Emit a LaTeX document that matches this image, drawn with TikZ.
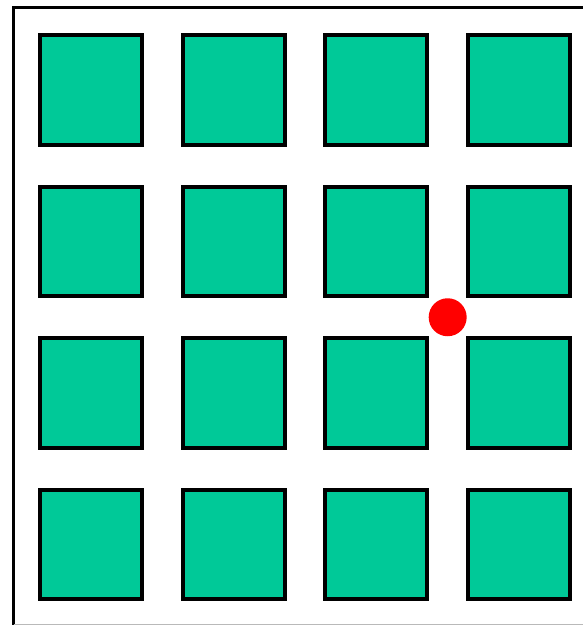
\documentclass[tikz,border=0pt]{standalone}
\usetikzlibrary{matrix, calc}
\definecolor{padgreen}{RGB}{0,201,152}

\begin{document}
\begin{tikzpicture}[x=1pt,y=-1pt]
            \useasboundingbox (0,0) rectangle (582,626);
            \coordinate (fbl) at (13.5,624.5);
            \coordinate (ftl) at (13.5,7.5);
            \coordinate (ftr) at (590,7.5);
            \coordinate (fbr) at (590,624.5);
            \draw[line width=3.5pt] (fbl) -- (ftl) -- (ftr);
            \draw[gray!55,line width=1pt] (fbl) -- (fbr);
            \matrix [matrix of nodes,nodes in empty cells,
                     nodes={draw,fill=padgreen,line width=4pt,inner sep=0pt,
                            minimum width=102pt,minimum height=109.5pt},
                     column sep=36.67pt,row sep=38pt] (m) at (305,317.25)
            {
                 & & & \\
                 & & & \\
                 & & & \\
                 & & & \\
            };
            \node[circle,fill=red,inner sep=0pt,minimum size=38pt] (dot)
                at ($(m-2-3.south east)!0.5!(m-3-4.north west)$) {};
        \end{tikzpicture}
\end{document}
